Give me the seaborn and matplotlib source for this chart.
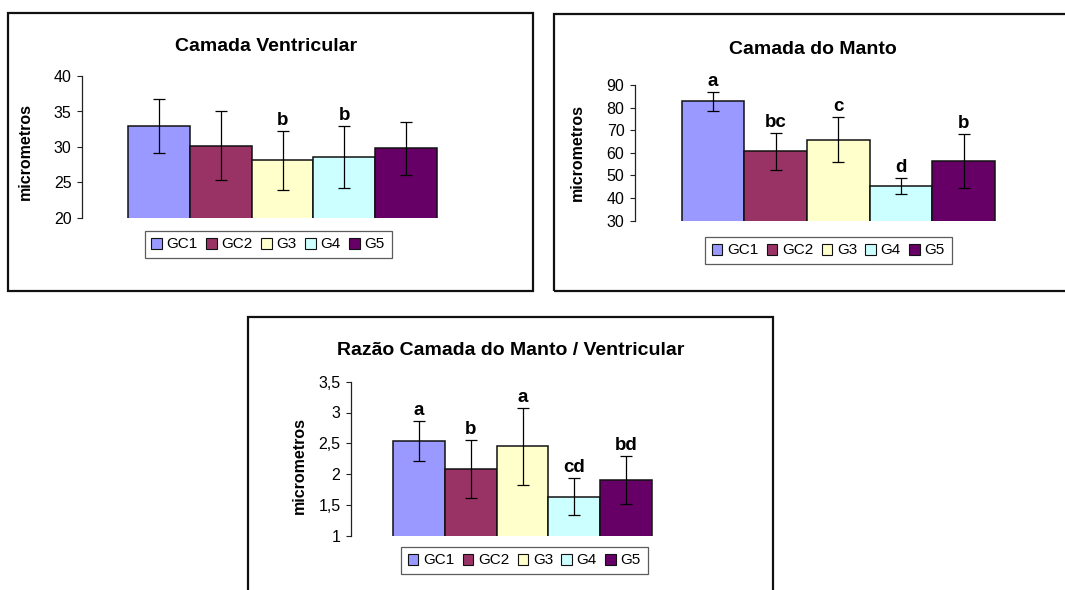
import numpy as np
import pandas as pd
import matplotlib
matplotlib.use("Agg")
import matplotlib.pyplot as plt
import seaborn as sns
from matplotlib.patches import Patch, Rectangle

# Groups and their fill colours
groups = ["GC1", "GC2", "G3", "G4", "G5"]
colors = ["#9999FF", "#993366", "#FFFFCC", "#CCFFFF", "#660066"]

# Camada Ventricular (micrometros): mean, error, significance letters
vent_mean = [33.0, 30.2, 28.1, 28.6, 29.8]
vent_err = [3.8, 4.8, 4.2, 4.4, 3.7]
vent_letters = ["", "", "b", "b", ""]
vent_ticks = [20, 25, 30, 35, 40]
vent_ticklabels = ["20", "25", "30", "35", "40"]

# Camada do Manto (micrometros)
manto_mean = [82.8, 60.7, 65.8, 45.2, 56.5]
manto_err = [4.3, 8.2, 10.0, 3.5, 12.0]
manto_letters = ["a", "bc", "c", "d", "b"]
manto_ticks = [30, 40, 50, 60, 70, 80, 90]
manto_ticklabels = ["30", "40", "50", "60", "70", "80", "90"]

# Razão Camada do Manto / Ventricular
ratio_mean = [2.54, 2.08, 2.45, 1.63, 1.91]
ratio_err = [0.32, 0.47, 0.63, 0.30, 0.39]
ratio_letters = ["a", "b", "a", "cd", "bd"]
ratio_ticks = [1, 1.5, 2, 2.5, 3, 3.5]
ratio_ticklabels = ["1", "1,5", "2", "2,5", "3", "3,5"]

sns.set_style("white")
plt.rcParams["font.family"] = ["Liberation Sans", "DejaVu Sans"]
plt.rcParams.update({"text.color": "black", "axes.labelcolor": "black",
                     "xtick.color": "black", "ytick.color": "black"})

W, H = 1065, 590
fig = plt.figure(figsize=(W / 100, H / 100), dpi=100)


def px_box(x0, y0, x1, y1):
    return [x0 / W, 1 - y1 / H, (x1 - x0) / W, (y1 - y0) / H]


def px(x, y):
    return x / W, 1 - y / H


def panel(frame, axes_box, xpad, means, errs, letters, ticks, ticklabels,
          title, title_xy, ylabel_xy, legend_xy):
    # outer chart frame
    fx0, fy0, fx1, fy1 = frame
    fig.patches.append(Rectangle(px(fx0, fy1), (fx1 - fx0) / W, (fy1 - fy0) / H,
                                 transform=fig.transFigure, fill=False,
                                 edgecolor="#111111", linewidth=1.6, zorder=0))
    ax = fig.add_axes(px_box(*axes_box))
    df = pd.DataFrame({"grupo": groups, "valor": means})
    sns.barplot(data=df, x="grupo", y="valor", hue="grupo", order=groups,
                hue_order=groups, palette=colors, saturation=1, width=1.0,
                edgecolor="#111111", linewidth=1.1, legend=False, ax=ax)
    xs = np.arange(len(groups))
    ax.errorbar(xs, means, yerr=errs, fmt="none", ecolor="black",
                elinewidth=0.9, capsize=4.3, capthick=0.9, zorder=3)
    for x, m, e, lab in zip(xs, means, errs, letters):
        if lab:
            ax.annotate(lab, (x, m + e), xytext=(0, 6), textcoords="offset pixels",
                        ha="center", va="baseline", fontsize=13.5,
                        fontweight="bold", color="black")
    ax.set_xlim(-0.5 - xpad, len(groups) - 0.5 + xpad)
    ax.set_ylim(ticks[0], ticks[-1])
    ax.set_yticks(ticks)
    ax.set_yticklabels(ticklabels)
    ax.set_xticks([])
    ax.set_xlabel("")
    ax.set_ylabel("micrometros", fontsize=11.5, fontweight="bold")
    x0, y0, x1, y1 = axes_box
    ax.yaxis.set_label_coords((ylabel_xy[0] - x0) / (x1 - x0),
                              (y1 - ylabel_xy[1]) / (y1 - y0))
    for s in ["top", "right", "bottom"]:
        ax.spines[s].set_visible(False)
    ax.spines["left"].set_color("#222222")
    ax.spines["left"].set_linewidth(0.9)
    ax.tick_params(axis="y", direction="out", length=3.6, width=0.8,
                   color="#222222", labelcolor="black", pad=4,
                   labelsize=11.5, left=True)
    ax.patch.set_alpha(0)
    fig.text(*px(*title_xy), title, ha="center", va="baseline",
             fontsize=14, fontweight="bold", color="black")
    handles = [Patch(facecolor=c, edgecolor="#111111", linewidth=0.8, label=g)
               for g, c in zip(groups, colors)]
    leg = fig.legend(handles=handles, loc="center", bbox_to_anchor=px(*legend_xy),
                     ncol=5, fontsize=11, frameon=True, fancybox=False,
                     handlelength=0.7, handleheight=0.7, handletextpad=0.3,
                     columnspacing=0.55, borderpad=0.45, borderaxespad=0,
                     labelcolor="black")
    leg.get_frame().set_edgecolor("#333333")
    leg.get_frame().set_linewidth(0.9)
    return ax


panel((8, 13, 533, 291), (82, 76, 483, 218), 0.744,
      vent_mean, vent_err, vent_letters, vent_ticks, vent_ticklabels,
      "Camada Ventricular", (266, 51), (33, 152), (268, 244.5))

panel((554, 14, 1075, 291), (635, 85, 1041.7, 220.7), 0.745,
      manto_mean, manto_err, manto_letters, manto_ticks, manto_ticklabels,
      "Camada do Manto", (812.5, 54.3), (585, 152), (828.3, 250.5))

panel((248, 317, 773, 600), (351, 381.7, 694, 535.7), 0.80,
      ratio_mean, ratio_err, ratio_letters, ratio_ticks, ratio_ticklabels,
      "Razão Camada do Manto / Ventricular", (510.3, 355), (307, 465),
      (524.3, 560.5))

fig.savefig("out.png", dpi=100)
